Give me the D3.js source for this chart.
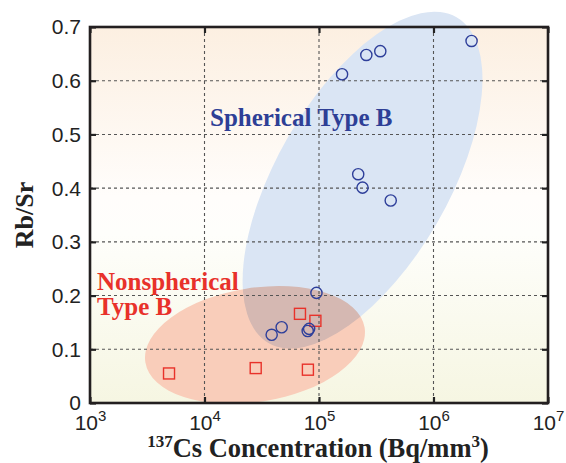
<!DOCTYPE html>
<html>
<head>
<meta charset="utf-8">
<script src="https://cdn.jsdelivr.net/npm/d3@7"></script>
<style>
  body { margin: 0; background: #fff; }
  svg { display: block; }
</style>
</head>
<body>
<script>
// Data

// Spherical Type B (circles)
let sphericalCs = [2.15e6, 3.43e5, 2.59e5, 1.59e5, 2.2e5, 2.4e5, 4.23e5, 9.5e4, 8.2e4, 7.97e4, 4.72e4, 3.86e4]
let sphericalRbSr = [0.674, 0.655, 0.648, 0.612, 0.426, 0.401, 0.377, 0.205, 0.138, 0.134, 0.141, 0.127]

// Nonspherical Type B (squares)
let nonsphericalCs = [4.9e3, 2.8e4, 6.82e4, 9.3e4, 8.0e4]
let nonsphericalRbSr = [0.055, 0.065, 0.166, 0.153, 0.062]

// group zones (centre in data units)
let sphericalZone = [2.4e5, 0.415]
let nonsphericalZone = [2.76e4, 0.108]

let xTicks = [1e3, 1e4, 1e5, 1e6, 1e7]
let yTicks = [0, 0.1, 0.2, 0.3, 0.4, 0.5, 0.6, 0.7]

// Container sizing

let width = 566
let height = 463

let margin = {
    left: 90,
    top: 27,
    right: 18,
    bottom: 60
}

let chartWidth = width - margin.left - margin.right
let chartHeight = height - margin.top - margin.bottom

let svg = d3.select('body')
    .append('svg')
    .attr('width', width)
    .attr('height', height)

// background gradient
let defs = svg.append('defs')
let grad = defs.append('linearGradient')
    .attr('id', 'bg')
    .attr('x1', 0).attr('y1', 0).attr('x2', 0).attr('y2', 1)
grad.append('stop').attr('offset', '0%').attr('stop-color', '#fcefe1')
grad.append('stop').attr('offset', '45%').attr('stop-color', '#fffdfb')
grad.append('stop').attr('offset', '55%').attr('stop-color', '#fefefb')
grad.append('stop').attr('offset', '100%').attr('stop-color', '#f6f6e2')

let chartGroup = svg.append('g')
    .attr('transform', `translate(${margin.left}, ${margin.top})`)

let xScale = d3.scaleLog()
    .domain([1e3, 1e7])
    .range([0, chartWidth])

let yScale = d3.scaleLinear()
    .domain([0, 0.7])
    .range([chartHeight, 0])

chartGroup.append('rect')
    .attr('width', chartWidth)
    .attr('height', chartHeight)
    .attr('fill', 'url(#bg)')

// zones (isolated so the pink only multiplies with the blue)
let zones = chartGroup.append('g')
    .style('isolation', 'isolate')

zones.append('ellipse')
    .attr('transform', `translate(${xScale(sphericalZone[0])}, ${yScale(sphericalZone[1])}) rotate(-60)`)
    .attr('rx', 188)
    .attr('ry', 86)
    .attr('fill', '#dae5f4')

zones.append('ellipse')
    .attr('transform', `translate(${xScale(nonsphericalZone[0])}, ${yScale(nonsphericalZone[1])}) rotate(-9)`)
    .attr('rx', 111)
    .attr('ry', 57)
    .attr('fill', '#f9cdba')
    .style('mix-blend-mode', 'multiply')

// grid
chartGroup.selectAll('.vgrid')
    .data(xTicks.slice(1, -1))
    .join('line')
    .attr('x1', d => xScale(d)).attr('x2', d => xScale(d))
    .attr('y1', 0).attr('y2', chartHeight)
    .attr('stroke', '#555')
    .attr('stroke-width', 1.1)
    .attr('stroke-dasharray', '3,3')

chartGroup.selectAll('.hgrid')
    .data(yTicks.slice(1, -1))
    .join('line')
    .attr('x1', 0).attr('x2', chartWidth)
    .attr('y1', d => yScale(d)).attr('y2', d => yScale(d))
    .attr('stroke', '#555')
    .attr('stroke-width', 1.1)
    .attr('stroke-dasharray', '3,3')

// Axes
let xAxis = d3.axisBottom(xScale).tickValues(xTicks).tickSizeInner(-6).tickSizeOuter(0).tickPadding(10)
let yAxis = d3.axisLeft(yScale).tickValues(yTicks).tickSizeInner(-6).tickSizeOuter(0).tickPadding(9)
    .tickFormat(d => d === 0 ? '0' : d3.format('.1f')(d))

let xg = chartGroup.append('g')
    .attr('transform', `translate(0, ${chartHeight})`)
    .call(xAxis)

xg.selectAll('text')
    .attr('dy', null)
    .attr('y', 27)
    .each(function(d) {
        let t = d3.select(this)
        t.text('')
        t.append('tspan').text('10')
        t.append('tspan').attr('dy', -9).attr('font-size', 15).text(Math.round(Math.log10(d)))
    })

let yg = chartGroup.append('g')
    .call(yAxis)

yg.selectAll('text').attr('dy', '0.33em')

chartGroup.append('g')
    .call(d3.axisTop(xScale).tickValues(xTicks).tickSizeInner(-6).tickSizeOuter(0).tickFormat(''))

chartGroup.append('g')
    .attr('transform', `translate(${chartWidth}, 0)`)
    .call(d3.axisRight(yScale).tickValues(yTicks).tickSizeInner(-6).tickSizeOuter(0).tickFormat(''))

chartGroup.selectAll('.domain').remove()
chartGroup.selectAll('.tick line').attr('stroke', '#222').attr('stroke-width', 2.2)
chartGroup.selectAll('.tick text')
    .attr('fill', '#222')
    .attr('font-family', 'Liberation Sans, Arial, sans-serif')
    .attr('font-size', 21)

// frame
chartGroup.append('rect')
    .attr('width', chartWidth)
    .attr('height', chartHeight)
    .attr('fill', 'none')
    .attr('stroke', '#231f20')
    .attr('stroke-width', 2.6)

// markers
let spherical = sphericalCs.map((c, i) => ({cs: c, r: sphericalRbSr[i]}))
let nonspherical = nonsphericalCs.map((c, i) => ({cs: c, r: nonsphericalRbSr[i]}))

chartGroup.selectAll('.sq')
    .data(nonspherical)
    .join('rect')
    .attr('x', d => xScale(d.cs) - 5.5)
    .attr('y', d => yScale(d.r) - 5.5)
    .attr('width', 11)
    .attr('height', 11)
    .attr('fill', 'none')
    .attr('stroke', '#e8322a')
    .attr('stroke-width', 1.4)

chartGroup.selectAll('.circ')
    .data(spherical)
    .join('circle')
    .attr('cx', d => xScale(d.cs))
    .attr('cy', d => yScale(d.r))
    .attr('r', 5.6)
    .attr('fill', 'none')
    .attr('stroke', '#2e3f9a')
    .attr('stroke-width', 1.4)

// labels
let serif = 'Liberation Serif, Times New Roman, serif'

svg.append('text')
    .attr('x', 210)
    .attr('y', 126)
    .attr('font-family', serif)
    .attr('font-weight', 'bold')
    .attr('font-size', 25)
    .attr('fill', '#2e3f96')
    .text('Spherical Type B')

let ns = svg.append('text')
    .attr('font-family', serif)
    .attr('font-weight', 'bold')
    .attr('font-size', 25)
    .attr('fill', '#e8312a')
ns.append('tspan').attr('x', 97).attr('y', 290).text('Nonspherical')
ns.append('tspan').attr('x', 97).attr('y', 315).text('Type B')

let xl = svg.append('text')
    .attr('x', margin.left + chartWidth / 2 - 1)
    .attr('y', 457)
    .attr('text-anchor', 'middle')
    .attr('font-family', serif)
    .attr('font-weight', 'bold')
    .attr('font-size', 26.5)
    .attr('fill', '#222')
xl.append('tspan').attr('font-size', 17).attr('dy', -10).text('137')
xl.append('tspan').attr('dy', 10).text('Cs Concentration (Bq/mm')
xl.append('tspan').attr('font-size', 17).attr('dy', -10).text('3')
xl.append('tspan').attr('dy', 10).text(')')

svg.append('text')
    .attr('transform', `translate(33, ${margin.top + chartHeight / 2}) rotate(-90)`)
    .attr('text-anchor', 'middle')
    .attr('font-family', serif)
    .attr('font-weight', 'bold')
    .attr('font-size', 26)
    .attr('fill', '#222')
    .text('Rb/Sr')
</script>
</body>
</html>
